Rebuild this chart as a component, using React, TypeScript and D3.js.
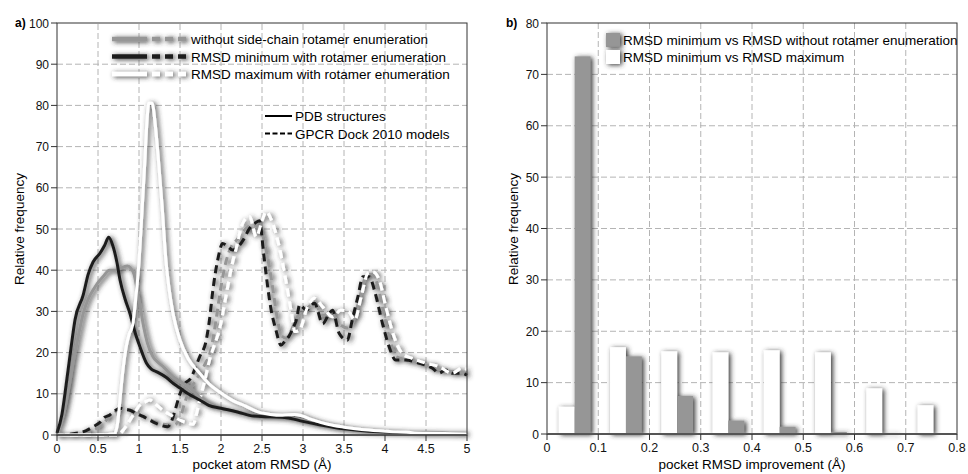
import React from 'react';
import * as d3 from 'd3';

// ---- panel a) : pocket atom RMSD distributions (x in Å, y relative frequency)
const pdbNoRot: [number, number][] = [[0,0.5],[0.08,5],[0.15,12],[0.2,18],[0.24,22],[0.28,26],[0.32,29.5],[0.38,33],[0.44,35.2],[0.5,37],[0.56,38.4],[0.64,40],[0.72,40],[0.78,40.5],[0.86,41],[0.9,40.5],[0.94,39],[0.98,35],[1.02,30.5],[1.06,26],[1.1,22.5],[1.17,19],[1.24,17.5],[1.3,16.5],[1.41,14.2],[1.52,12.8],[1.62,11.5],[1.75,9],[1.9,7.3],[2.0,6.6],[2.2,5.6],[2.5,4.7],[2.8,4.3],[3.0,3.6],[3.3,2.3],[3.6,1.4],[4.0,0.8],[4.5,0.5],[5,0.4]];
const pdbMin: [number, number][] = [[0,0.5],[0.06,5],[0.12,13.5],[0.17,21],[0.22,28],[0.32,34],[0.38,39],[0.44,42],[0.52,44],[0.58,46],[0.63,48],[0.68,46],[0.73,42],[0.77,37.5],[0.83,33],[0.89,29.5],[0.95,25],[1.01,21.5],[1.09,17.5],[1.15,16],[1.21,15.4],[1.33,14],[1.42,12.5],[1.5,11.4],[1.6,10],[1.74,8.5],[1.85,7.2],[2.0,6.5],[2.2,5.6],[2.4,4.6],[2.6,4.4],[2.8,4.2],[3.0,3.3],[3.2,2.5],[3.5,1.5],[3.8,0.9],[4.2,0.6],[4.6,0.4],[5,0.3]];
const pdbMax: [number, number][] = [[0,0],[0.5,0],[0.7,0.3],[0.74,3],[0.77,9],[0.8,15],[0.84,21],[0.88,24.5],[0.92,26.5],[0.96,33],[1.0,42],[1.03,52],[1.07,66],[1.1,77],[1.12,80.5],[1.16,80.5],[1.2,75],[1.24,66],[1.28,56],[1.33,42],[1.37,35],[1.42,29],[1.5,23],[1.6,18.5],[1.74,15],[1.85,12.5],[2.0,10.2],[2.15,8.3],[2.3,7],[2.45,5.6],[2.6,5],[2.75,4.8],[2.9,5],[2.98,4.7],[3.1,3.8],[3.3,2.6],[3.5,1.9],[3.8,1.2],[4.1,0.8],[4.5,0.5],[5,0.3]];
const gpcrNoRot: [number, number][] = [[0,0],[0.3,0.3],[0.45,1.2],[0.55,2.5],[0.62,4],[0.7,5.5],[0.8,6.3],[0.9,6],[1.0,5],[1.1,4],[1.2,3.2],[1.3,2.6],[1.42,2.4],[1.5,4],[1.56,8],[1.62,11],[1.7,13.5],[1.8,17],[1.88,21],[1.94,28],[2.0,36],[2.06,42],[2.12,45.5],[2.2,47.5],[2.3,50],[2.38,51],[2.45,50.5],[2.5,49],[2.56,44],[2.62,37],[2.68,29],[2.74,24],[2.8,23.5],[2.86,25.5],[2.94,29],[3.04,30.5],[3.14,32],[3.24,29],[3.34,29.5],[3.44,27],[3.54,26],[3.62,28],[3.7,34],[3.77,38.5],[3.84,39],[3.9,37],[3.98,30],[4.06,23],[4.14,19],[4.25,18.3],[4.42,17.4],[4.6,16.4],[4.75,15.5],[4.9,15.3],[5,15]];
const gpcrMin: [number, number][] = [[0,0],[0.2,0.3],[0.35,1],[0.44,2],[0.52,3],[0.58,4.3],[0.64,4.8],[0.7,5.8],[0.77,6.5],[0.83,6.2],[0.89,6],[0.97,5.2],[1.05,4.5],[1.13,3.6],[1.21,2.8],[1.35,2],[1.4,3.5],[1.44,6],[1.5,10],[1.56,12.5],[1.62,13.5],[1.74,19],[1.82,23],[1.86,28],[1.9,35],[1.96,42.5],[2.02,46.5],[2.08,45.8],[2.14,44.9],[2.2,45.5],[2.27,47.3],[2.35,50.2],[2.42,51.5],[2.47,52],[2.52,44],[2.55,39],[2.61,30.5],[2.67,25.5],[2.73,21.8],[2.78,22.8],[2.83,24],[2.88,26],[2.92,28],[2.96,31.6],[3.04,30.3],[3.14,32],[3.24,27],[3.32,29.5],[3.36,30.3],[3.44,24.7],[3.54,23],[3.6,27.9],[3.67,33.6],[3.73,38.4],[3.81,38.4],[3.87,35.2],[3.97,27],[4.05,21.4],[4.13,18.2],[4.25,18.2],[4.42,17.4],[4.58,16.2],[4.66,15],[4.74,15.8],[4.82,15],[4.94,15],[5,14.5]];
const gpcrMax: [number, number][] = [[0,0],[0.74,0],[0.8,1],[0.89,3.6],[0.95,5.5],[1.01,7.3],[1.07,8],[1.13,8.5],[1.2,7.5],[1.29,6],[1.4,4.7],[1.5,3.6],[1.58,3],[1.66,2.6],[1.7,5],[1.74,8.5],[1.8,13],[1.86,18.2],[1.94,23],[1.98,25.5],[2.06,33.6],[2.13,40.9],[2.19,45.7],[2.25,50.6],[2.3,52.5],[2.35,53],[2.43,48.1],[2.5,52],[2.55,54.2],[2.63,51.4],[2.71,45.7],[2.79,37.6],[2.86,29.5],[2.9,25.1],[2.96,25.5],[3.04,30.3],[3.14,33.2],[3.24,31.1],[3.36,28.7],[3.46,30.3],[3.56,29.9],[3.63,27.9],[3.71,33.6],[3.79,39.2],[3.85,39.6],[3.93,37.6],[4.01,31.1],[4.11,23.9],[4.21,19.8],[4.33,18.6],[4.5,17.4],[4.66,16.6],[4.82,15],[4.94,16.2],[5,16]];

const aXTicks = [0, 0.5, 1, 1.5, 2, 2.5, 3, 3.5, 4, 4.5, 5];
const aYTicks = [0, 10, 20, 30, 40, 50, 60, 70, 80, 90, 100];
const rotLegend = ['without side-chain rotamer enumeration', 'RMSD minimum with rotamer enumeration', 'RMSD maximum with rotamer enumeration'];
const srcLegend = ['PDB structures', 'GPCR Dock 2010 models'];

// ---- panel b) : histogram of pocket RMSD improvement
const binStarts = [0, 0.1, 0.2, 0.3, 0.4, 0.5, 0.6, 0.7];
const minVsMax = [5.3, 16.9, 16.1, 15.9, 16.3, 15.9, 8.9, 5.6];
const minVsNoRot = [73.5, 15.1, 7.4, 2.6, 1.4, 0.4, 0.15, 0];
const bXTicks = [0, 0.1, 0.2, 0.3, 0.4, 0.5, 0.6, 0.7, 0.8];
const bYTicks = [0, 10, 20, 30, 40, 50, 60, 70, 80];
const barLegend = ['RMSD minimum vs RMSD without rotamer enumeration', 'RMSD minimum vs RMSD maximum'];

const FONT = 'Liberation Sans, Arial, sans-serif';
const GREY = '#969696';
const BLACK = '#1e1e1e';

const App = () => {
  const ax = d3.scaleLinear().domain([0, 5]).range([57, 467]);
  const ay = d3.scaleLinear().domain([0, 100]).range([435, 23]);
  const bx = d3.scaleLinear().domain([0, 0.8]).range([547, 957]);
  const by = d3.scaleLinear().domain([0, 80]).range([434, 23]);

  const line = d3.line<[number, number]>().x(d => ax(d[0])).y(d => ay(d[1])).curve(d3.curveMonotoneX);

  const series = [
    { data: gpcrNoRot, color: GREY, dash: '8,5' },
    { data: gpcrMin, color: BLACK, dash: '8,5' },
    { data: gpcrMax, color: '#fff', dash: '8,5' },
    { data: pdbNoRot, color: GREY, dash: null },
    { data: pdbMin, color: BLACK, dash: null },
    { data: pdbMax, color: '#fff', dash: null },
  ];
  const legendColors = [GREY, BLACK, '#fff'];

  const grid = (x0: number, x1: number, y0: number, y1: number, xs: number[], ys: number[], sx: any, sy: any) => (
    <g stroke="#b4b4b4" strokeWidth={1} strokeDasharray="6,3">
      {xs.slice(1, -1).map(t => <line key={'gx' + t} x1={sx(t)} x2={sx(t)} y1={y0} y2={y1} />)}
      {ys.slice(1, -1).map(t => <line key={'gy' + t} x1={x0} x2={x1} y1={sy(t)} y2={sy(t)} />)}
    </g>
  );

  const axes = (x0: number, x1: number, y0: number, y1: number, xs: number[], ys: number[], sx: any, sy: any) => (
    <g fontFamily={FONT} fontSize={12} fill="#111">
      <rect x={x0} y={y1} width={x1 - x0} height={y0 - y1} fill="none" stroke="#333" strokeWidth={1} />
      <line x1={x0} x2={x1} y1={y0} y2={y0} stroke="#555" strokeWidth={2} />
      {xs.map(t => (
        <g key={'tx' + t}>
          <line x1={sx(t)} x2={sx(t)} y1={y0} y2={y0 + 6} stroke="#333" />
          <text x={sx(t)} y={y0 + 18} textAnchor="middle" fontSize={12.5}>{String(t)}</text>
        </g>
      ))}
      {ys.map(t => (
        <g key={'ty' + t}>
          <line x1={x0 - 6} x2={x0} y1={sy(t)} y2={sy(t)} stroke="#333" />
          <text x={x0 - 8} y={sy(t) + 4.5} textAnchor="end">{t}</text>
        </g>
      ))}
    </g>
  );

  const bw = 0.031;

  return (
    <svg width={968} height={474} style={{ position: 'absolute', left: 0, top: 0, background: '#fff' }}>
      <defs>
        <filter id="glow" filterUnits="userSpaceOnUse" x={0} y={0} width={968} height={474}>
          <feGaussianBlur in="SourceAlpha" stdDeviation="2.6" result="b" />
          <feOffset in="b" dx="2" dy="0.8" result="o" />
          <feFlood floodColor="#333" floodOpacity="1" />
          <feComposite in2="o" operator="in" result="s" />
          <feMerge>
            <feMergeNode in="s" />
            <feMergeNode in="SourceGraphic" />
          </feMerge>
        </filter>
      </defs>

      {/* panel a */}
      {grid(57, 467, 435, 23, aXTicks, aYTicks, ax, ay)}
      <g fill="none" strokeWidth={3} strokeLinejoin="round" filter="url(#glow)">
        {series.map((s, i) => (
          <path key={i} d={line(s.data) || ''} stroke={s.color} strokeDasharray={s.dash || undefined} />
        ))}
      </g>
      {axes(57, 467, 435, 23, aXTicks, aYTicks, ax, ay)}
      <g fontFamily={FONT} fontSize={13.5}>
        {rotLegend.map((t, i) => (
          <g key={t}>
            <g filter="url(#glow)" stroke={legendColors[i]} strokeWidth={4.5}>
              <line x1={112} x2={147} y1={39 + i * 17.5} y2={39 + i * 17.5} />
              <line x1={152} x2={186} y1={39 + i * 17.5} y2={39 + i * 17.5} strokeDasharray="8,5" />
            </g>
            <text x={191} y={39 + i * 17.5 + 5}>{t}</text>
          </g>
        ))}
        {srcLegend.map((t, i) => (
          <g key={t}>
            <line x1={265} x2={292} y1={116 + i * 17.5} y2={116 + i * 17.5} stroke="#000" strokeWidth={2} strokeDasharray={i ? '5,2.5' : undefined} />
            <text x={295} y={116 + i * 17.5 + 5}>{t}</text>
          </g>
        ))}
      </g>
      <text x={15} y={27} fontFamily={FONT} fontSize={12} fontWeight="bold">a)</text>
      <text x={262} y={469} fontFamily={FONT} fontSize={13.5} textAnchor="middle">pocket atom RMSD (Å)</text>
      <text transform="translate(24,229) rotate(-90)" fontFamily={FONT} fontSize={13.5} textAnchor="middle">Relative frequency</text>

      {/* panel b */}
      {grid(547, 957, 434, 23, bXTicks, bYTicks, bx, by)}
      <g filter="url(#glow)">
        {binStarts.map((b, i) => (
          <g key={b}>
            {minVsMax[i] > 0 && <rect x={bx(b + 0.023)} width={bx(bw) - bx(0)} y={by(minVsMax[i])} height={by(0) - by(minVsMax[i])} fill="#fff" />}
            {minVsNoRot[i] > 0 && <rect x={bx(b + 0.023 + bw)} width={bx(bw) - bx(0)} y={by(minVsNoRot[i])} height={by(0) - by(minVsNoRot[i])} fill={GREY} />}
          </g>
        ))}
      </g>
      {axes(547, 957, 434, 23, bXTicks, bYTicks, bx, by)}
      <g fontFamily={FONT} fontSize={13.5}>
        {barLegend.map((t, i) => (
          <g key={t}>
            <rect x={606} y={33 + i * 17} width={14} height={14} fill={i ? '#fff' : GREY} filter="url(#glow)" />
            <text x={623} y={45 + i * 17}>{t}</text>
          </g>
        ))}
      </g>
      <text x={506} y={27} fontFamily={FONT} fontSize={12} fontWeight="bold">b)</text>
      <text x={752} y={469} fontFamily={FONT} fontSize={13.5} textAnchor="middle">pocket RMSD improvement (Å)</text>
      <text transform="translate(518,229) rotate(-90)" fontFamily={FONT} fontSize={13.5} textAnchor="middle">Relative frequency</text>
    </svg>
  );
};

export default App;
